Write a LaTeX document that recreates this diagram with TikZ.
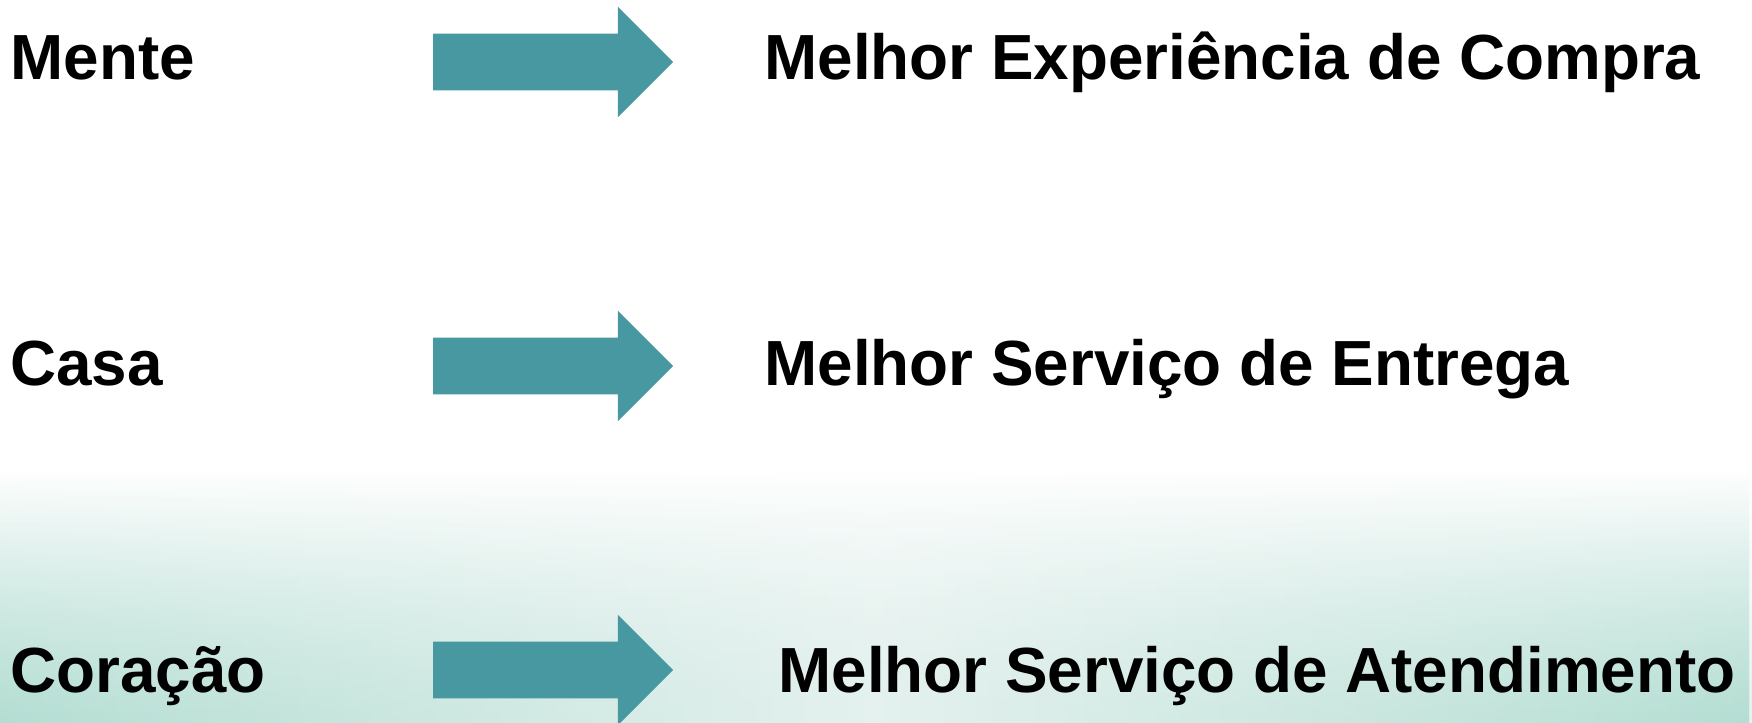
\documentclass[tikz,border=0pt]{standalone}
\usepackage{fontspec}
\setmainfont{Liberation Sans}
\usetikzlibrary{shapes.arrows,fadings}
\definecolor{arrowteal}{RGB}{71,152,160}
\definecolor{bgmid}{RGB}{228,241,238}
\definecolor{bgside}{RGB}{180,222,211}

\begin{document}
\begin{tikzpicture}[x=0.5pt, y=-0.5pt,
		label/.style={anchor=base west, inner sep=0pt, font=\fontsize{31.9}{38}\selectfont\bfseries},
		fatarrow/.style={single arrow, fill=arrowteal, draw=none, inner xsep=0pt, inner ysep=14pt,
			minimum height=120pt, single arrow head extend=13.5pt, single arrow head indent=0pt}]
		\useasboundingbox (0, 0) rectangle (1752, 723);
		% background
		\shade[top color=white, bottom color=bgmid] (0, 470) rectangle (1752, 723);
		\shade[left color=bgside, right color=bgside, middle color=bgmid, path fading=north] (0, 470) rectangle (1752, 723);

		\node[label] (mente) at (10, 79) {Mente};
		\node[fatarrow] (a1) at (539, 62) {};
		\node[label] (compra) at (764, 79) {Melhor Experiência de Compra};

		\node[label] (casa) at (10, 385) {Casa};
		\node[fatarrow] (a2) at (539, 366) {};
		\node[label] (entrega) at (764, 385) {Melhor Serviço de Entrega};

		\node[label] (coracao) at (10, 692) {Coração};
		\node[fatarrow] (a3) at (539, 670) {};
		\node[label] (atend) at (778, 692) {Melhor Serviço de Atendimento};
\end{tikzpicture}
\end{document}
